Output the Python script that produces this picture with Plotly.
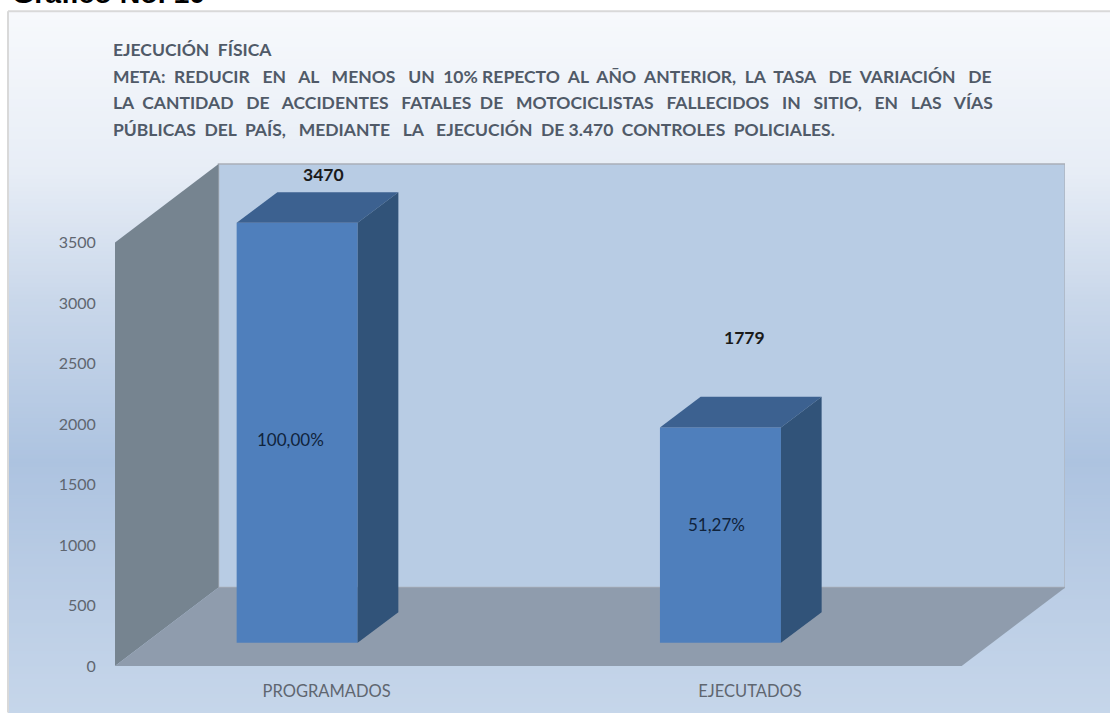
import plotly.graph_objects as go

# ---- data ----
categories = ["PROGRAMADOS", "EJECUTADOS"]
values = [3470, 1779]
percent_labels = ["100,00%", "51,27%"]
value_labels = ["3470", "1779"]
y_ticks = [0, 500, 1000, 1500, 2000, 2500, 3000, 3500]
cat_pos = [0.5, 1.5]

N = "\u00a0"
title_lines = [
    f"EJECUCIÓN{N}{N}FÍSICA",
    f"META:{N} REDUCIR{N}{N} EN{N}{N} AL{N}{N} MENOS{N}{N} UN{N} 10% REPECTO{N} AL{N} AÑO{N} ANTERIOR,{N} LA{N} TASA{N}{N} DE{N} VARIACIÓN{N}{N} DE",
    f"LA{N} CANTIDAD{N}{N} DE{N}{N} ACCIDENTES{N}{N} FATALES{N} DE{N}{N} MOTOCICLISTAS{N}{N} FALLECIDOS{N}{N} IN{N}{N} SITIO,{N}{N} EN{N}{N} LAS{N}{N} VÍAS",
    f"PÚBLICAS{N} DEL{N} PAÍS,{N}{N} MEDIANTE{N}{N} LA{N}{N} EJECUCIÓN{N} DE 3.470{N} CONTROLES{N} POLICIALES.",
]
title_y_px = [49, 76, 102, 129]

# ---- geometry of the pseudo-3D box (axis units) ----
W, H = 1110, 713
ML, MR, MT, MB = 115, 45, 163, 46.5
PW, PH = W - ML - MR, H - MT - MB
X_UNIT = 423.3            # px per category
Y_UNIT = 424 / 3500       # px per value
x_max = PW / X_UNIT
y_max = PH / Y_UNIT
wall_dx, wall_dy = 103.5 / X_UNIT, 78.5 / Y_UNIT
bar_dx, bar_dy = 40.7 / X_UNIT, 30.7 / Y_UNIT
bar_w = 121 / X_UNIT
bar_base = 23.2 / Y_UNIT
bar_shift = -29.5 / X_UNIT
floor_w = 846.7 / X_UNIT

FRONT, TOP, SIDE = "#4f7fbc", "#3c6190", "#315379"


def px_x(p):
    return (p - ML) / PW


def px_y(p):
    return (H - MB - p) / PH


def hex2rgb(c):
    return tuple(int(c[i:i + 2], 16) for i in (1, 3, 5))


stops = [(11, "#f7f9fc"), (170, "#e7edf6"), (300, "#c9d7ea"),
         (460, "#adc3e0"), (560, "#b8cbe4"), (713, "#c6d6ea")]


def grad(py):
    for (a, ca), (b, cb) in zip(stops, stops[1:]):
        if py <= b:
            t = (py - a) / (b - a)
            r = [round(u + (v - u) * t) for u, v in zip(hex2rgb(ca), hex2rgb(cb))]
            return "rgb(%d,%d,%d)" % tuple(r)
    return stops[-1][1]


shapes = []
STEP = 4
for py in range(11, H, STEP):
    shapes.append(dict(type="rect", xref="paper", yref="paper", layer="below",
                       x0=px_x(8), x1=px_x(W), y0=px_y(py), y1=px_y(py + STEP + 1),
                       fillcolor=grad(py), line=dict(width=0)))
# frame edges
shapes.append(dict(type="line", xref="paper", yref="paper", layer="below",
                   x0=px_x(8), x1=px_x(W), y0=px_y(11), y1=px_y(11),
                   line=dict(color="#d9d9d9", width=2)))
shapes.append(dict(type="line", xref="paper", yref="paper", layer="below",
                   x0=px_x(8), x1=px_x(8), y0=px_y(11), y1=px_y(H),
                   line=dict(color="#d9d9d9", width=2)))


def poly(pts):
    return "M " + " L ".join(f"{x:.4f},{y:.2f}" for x, y in pts) + " Z"


ytop = y_ticks[-1]
# back wall
shapes.append(dict(type="path", xref="x", yref="y", layer="below",
                   path=poly([(wall_dx, wall_dy), (wall_dx, ytop + wall_dy),
                              (wall_dx + floor_w, ytop + wall_dy), (wall_dx + floor_w, wall_dy)]),
                   fillcolor="#b8cce4", line=dict(color="#a9afb8", width=1.5)))
# left wall
shapes.append(dict(type="path", xref="x", yref="y", layer="below",
                   path=poly([(0, 0), (0, ytop), (wall_dx, ytop + wall_dy), (wall_dx, wall_dy)]),
                   fillcolor="#768490", line=dict(width=0)))
# floor
shapes.append(dict(type="path", xref="x", yref="y", layer="below",
                   path=poly([(0, 0), (wall_dx, wall_dy), (wall_dx + floor_w, wall_dy), (floor_w, 0)]),
                   fillcolor="#8f9cad", line=dict(width=0)))

fig = go.Figure()
bar_x = [c + bar_shift for c in cat_pos]

# front faces
fig.add_trace(go.Bar(x=bar_x, y=values, base=bar_base, width=bar_w,
                     marker=dict(color=FRONT, line=dict(width=0)), showlegend=False,
                     hoverinfo="skip"))

# top and side faces, derived from the values
for x, v in zip(bar_x, values):
    l, r = x - bar_w / 2, x + bar_w / 2
    b, t = bar_base, bar_base + v
    fig.add_trace(go.Scatter(x=[l, l + bar_dx, r + bar_dx, r, l],
                             y=[t, t + bar_dy, t + bar_dy, t, t],
                             mode="lines", fill="toself", fillcolor=TOP,
                             line=dict(width=0), showlegend=False, hoverinfo="skip"))
    fig.add_trace(go.Scatter(x=[r, r + bar_dx, r + bar_dx, r, r],
                             y=[b, b + bar_dy, t + bar_dy, t, b],
                             mode="lines", fill="toself", fillcolor=SIDE,
                             line=dict(width=0), showlegend=False, hoverinfo="skip"))

FONT = "Lato, 'Open Sans', sans-serif"
annotations = []
for ln, py in zip(title_lines, title_y_px):
    annotations.append(dict(text=ln, xref="paper", yref="paper", x=px_x(111), y=px_y(py),
                            xanchor="left", yanchor="middle", showarrow=False,
                            font=dict(family=FONT, size=17.5, color="#505a68", weight="bold")))
annotations.append(dict(text="Gráfico No. 10", xref="paper", yref="paper", x=px_x(10), y=px_y(11),
                        xanchor="left", yanchor="bottom", showarrow=False,
                        font=dict(family="Liberation Sans", size=28.5, color="#000000", weight="bold")))

# value labels float at hand-placed heights in the source chart
value_label_x = [-3.5 / X_UNIT, -5.5 / X_UNIT]
value_label_lift = [149, 492]
for x, v, lab, dx, lift in zip(cat_pos, values, value_labels, value_label_x, value_label_lift):
    annotations.append(dict(text=lab, xref="x", yref="y", x=x + dx,
                            y=v + bar_base + bar_dy + lift, showarrow=False,
                            font=dict(family=FONT, size=17.5, color="#1a1a1a", weight="bold")))
# percentage labels in the bar
pct_y = [1874, 1171]
pct_dx = [-7 / X_UNIT, -4 / X_UNIT]
for x, y, lab, dx in zip(bar_x, pct_y, percent_labels, pct_dx):
    annotations.append(dict(text=lab, xref="x", yref="y", x=x + dx, y=y, showarrow=False,
                            font=dict(family=FONT, size=17, color="#10233b")))

fig.update_layout(
    width=W, height=H, autosize=False,
    margin=dict(l=ML, r=MR, t=MT, b=MB, pad=0),
    paper_bgcolor="#ffffff", plot_bgcolor="rgba(0,0,0,0)",
    shapes=shapes, annotations=annotations, showlegend=False,
    xaxis=dict(range=[0, x_max], tickmode="array", tickvals=cat_pos, ticktext=categories,
               automargin=False,
               showgrid=False, zeroline=False, showline=False, ticks="outside", ticklen=10,
               tickcolor="rgba(0,0,0,0)", tickfont=dict(family=FONT, size=16.5, color="#5f6670")),
    yaxis=dict(range=[0, y_max], tickmode="array", tickvals=y_ticks,
               automargin=False,
               showgrid=False, zeroline=False, showline=False, ticks="outside", ticklen=15,
               tickcolor="rgba(0,0,0,0)", tickfont=dict(family=FONT, size=16, color="#5f6670")),
)

fig.write_html("out.html", config={"displayModeBar": False},
               post_script="document.body.style.margin='0';document.documentElement.style.overflow='hidden';")
